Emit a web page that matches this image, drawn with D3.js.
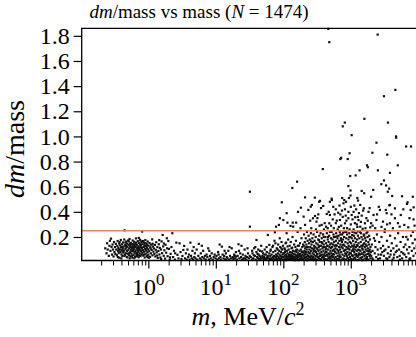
<!DOCTYPE html>
<html>
<head>
<meta charset="utf-8">
<script src="https://cdn.jsdelivr.net/npm/d3@7"></script>
<style>
    body { margin: 0; background: #fff; }
    svg { display: block; }
    svg text { font-family: "Liberation Serif", "DejaVu Serif", "Times New Roman", serif; }
</style>
</head>
<body>
<svg id="plot"></svg>
<script>
'use strict';

// values: [mass in MeV/c^2, dm/mass]
const lowMassPoints = [
    [0.23,0.11],[0.24,0.07],[0.245,0.15],[0.25,0.1],[0.26,0.05],[0.265,0.13],[0.27,0.17],[0.275,0.09],[0.28,0.187],[0.285,0.12],[0.29,0.06],[0.295,0.14],[0.3,0.1],[0.305,0.045],[0.31,0.16],[0.315,0.08],[0.32,0.12],[0.325,0.065],[0.33,0.145],[0.335,0.1],
    [0.342,0.055],[0.347,0.128],[0.351,0.168],[0.356,0.09],[0.36,0.112],[0.364,0.072],[0.369,0.149],[0.373,0.035],[0.378,0.101],[0.382,0.133],[0.386,0.081],[0.391,0.176],[0.395,0.118],[0.4,0.062],[0.404,0.095],[0.409,0.142],[0.413,0.048],[0.418,0.108],[0.422,0.157],[0.427,0.076],[0.431,0.124],[0.436,0.092],[0.44,0.18],[0.445,0.253],[0.449,0.058],[0.454,0.137],[0.458,0.104],[0.463,0.071],[0.468,0.163],[0.472,0.116],[0.477,0.042],[0.481,0.088],[0.486,0.147],[0.49,0.123],[0.495,0.067],[0.5,0.172],[0.354,0.04],[0.376,0.158],[0.398,0.03],[0.42,0.085],[0.441,0.05],[0.466,0.128],[0.488,0.038],[0.362,0.094],[0.411,0.12],[0.459,0.155],
    [0.505,0.097],[0.51,0.138],[0.516,0.055],[0.521,0.11],[0.527,0.184],[0.533,0.079],[0.538,0.127],[0.544,0.046],[0.55,0.153],[0.556,0.1],[0.562,0.068],[0.568,0.141],[0.574,0.117],[0.58,0.036],[0.586,0.172],[0.592,0.089],[0.598,0.131],[0.604,0.058],[0.61,0.106],[0.617,0.162],[0.623,0.075],[0.63,0.121],[0.636,0.043],[0.643,0.146],[0.65,0.094],[0.656,0.189],[0.663,0.064],[0.67,0.114],[0.677,0.138],[0.684,0.051],[0.691,0.099],[0.698,0.167],[0.705,0.083],[0.713,0.126],[0.72,0.039],[0.727,0.151],[0.735,0.105],[0.743,0.07],[0.75,0.178],[0.758,0.119],[0.766,0.048],[0.774,0.136],[0.782,0.087],[0.79,0.158],[0.798,0.061],
    [0.513,0.165],[0.53,0.03],[0.547,0.122],[0.565,0.088],[0.583,0.108],[0.601,0.145],[0.62,0.032],[0.64,0.084],[0.66,0.155],[0.68,0.072],[0.7,0.113],[0.722,0.193],[0.745,0.054],[0.768,0.095],[0.792,0.118],[0.525,0.072],[0.57,0.05],[0.615,0.135],[0.668,0.046],[0.718,0.092],[0.77,0.17],[0.54,0.145],[0.595,0.115],[0.648,0.126],[0.7,0.058],[0.755,0.142],
    [0.81,0.243],[0.806,0.112],[0.815,0.074],[0.823,0.143],[0.832,0.095],[0.84,0.052],[0.849,0.16],[0.858,0.121],[0.866,0.083],[0.875,0.134],[0.884,0.037],[0.893,0.107],[0.903,0.175],[0.912,0.066],[0.921,0.128],[0.931,0.091],[0.94,0.149],[0.95,0.049],[0.96,0.115],[0.97,0.078],[0.98,0.164],[0.99,0.102],[1.0,0.059],[1.01,0.131],[1.03,0.087],[1.04,0.152],[1.06,0.042],[1.07,0.118],[1.09,0.07],[1.1,0.139],[1.12,0.097],[1.14,0.181],[1.15,0.054],[1.17,0.124],[1.19,0.083],[0.835,0.168],[0.87,0.06],[0.915,0.1],[0.955,0.135],[1.02,0.035],[1.08,0.108],[1.16,0.146],[0.89,0.15],[0.975,0.04],
    [1.21,0.109],[1.23,0.064],[1.25,0.137],[1.27,0.045],[1.29,0.098],[1.31,0.158],[1.33,0.078],[1.36,0.12],[1.38,0.033],[1.41,0.089],[1.43,0.142],[1.46,0.061],[1.48,0.113],[1.51,0.037],[1.54,0.1],[1.57,0.165],[1.6,0.071],[1.63,0.216],[1.66,0.125],[1.69,0.05],[1.73,0.094],[1.77,0.028],[1.8,0.138],[1.84,0.075],[1.88,0.19],[1.93,0.047],[1.98,0.168],[2.02,0.105],[2.08,0.022],[2.14,0.066],[2.2,0.12],[2.27,0.23],[2.33,0.04],[2.4,0.09],[2.48,0.02],[2.6,0.155],[2.7,0.058],[2.8,0.03],[2.9,0.15],[3.0,0.08],[3.2,0.049],[3.3,0.097],[3.4,0.129],[1.35,0.052],[1.45,0.175],[1.55,0.025],[1.7,0.148],[1.9,0.11],[2.1,0.038],[2.5,0.07],[3.1,0.025]
];

const midMassPoints = [
    [3.5,0.03],[3.6,0.07],[3.7,0.02],[3.8,0.1],[3.9,0.04],[4.0,0.06],[4.1,0.02],[4.2,0.155],[4.3,0.05],[4.4,0.03],[4.5,0.09],[4.6,0.02],[4.8,0.04],[4.9,0.07],[5.0,0.03],[5.2,0.1],[5.3,0.02],[5.5,0.05],[5.6,0.145],[5.8,0.03],[6.0,0.07],[6.1,0.02],[6.3,0.04],[6.5,0.09],[6.7,0.03],[6.9,0.05],[7.1,0.02],[7.3,0.06],[7.5,0.04],[7.7,0.11],[7.9,0.02],[8.2,0.05],[8.4,0.03],[8.7,0.07],[9.0,0.02],[9.3,0.04],[9.6,0.06],[9.9,0.03],[4.7,0.12],[6.2,0.13],[8.0,0.09],
    [10.2,0.05],[10.5,0.02],[10.8,0.08],[11.1,0.03],[11.4,0.14],[11.7,0.04],[12.0,0.02],[12.3,0.123],[12.6,0.06],[13.0,0.03],[13.3,0.05],[13.7,0.02],[14.1,0.07],[14.5,0.04],[14.9,0.03],[15.3,0.09],[15.8,0.02],[16.2,0.05],[16.7,0.03],[17.2,0.11],[17.7,0.04],[18.2,0.02],[18.7,0.06],[19.3,0.03],[19.9,0.08],[20.5,0.02],[21.1,0.05],[21.7,0.142],[22.3,0.03],[23.0,0.07],[23.7,0.04],[24.4,0.02],[25.1,0.06],[25.9,0.03],[26.7,0.1],[27.5,0.05],[28.3,0.02],[29.1,0.04],[30.0,0.07],[30.9,0.03],[31.8,0.05],[11.0,0.06],[13.5,0.09],[16.0,0.12],[19.0,0.05],[22.0,0.09],[24.0,0.13],[27.0,0.03],[29.5,0.11],[14.0,0.02],[18.0,0.035],[20.0,0.045],[25.5,0.025],
    [32,0.282],[32,0.56],[33,0.04],[34,0.02],[35,0.07],[36,0.03],[37,0.11],[38,0.05],[39,0.02],[40,0.176],[40,0.08],[41,0.04],[42,0.03],[43,0.06],[44,0.02],[45,0.09],[46,0.04],[47,0.13],[48,0.03],[49,0.05],[50,0.07],[51,0.02],[52,0.04],[53,0.1],[54,0.03],[55,0.06],[56,0.02],[57,0.08],[58,0.04],[59,0.216],[59,0.05],[34.5,0.09],[36.5,0.055],[38.5,0.12],[42.5,0.1],[44.5,0.05],[48.5,0.085],[52.5,0.06],[56.5,0.12],[35.5,0.025],[45.5,0.025],[53.5,0.02],[41.5,0.065],[50.5,0.035],[57.5,0.03]
];

const highMassBand = [
    [61,0.03],[62,0.137],[62,0.07],[63,0.02],[64,0.05],[65,0.1],[66,0.03],[67,0.06],[68,0.02],[69,0.12],[70,0.04],[71,0.08],[72,0.03],[73,0.05],[74,0.17],[75,0.238],[75,0.02],[76,0.09],[77,0.04],[78,0.282],[78,0.06],[79,0.03],[80,0.11],[81,0.05],[82,0.02],[83,0.07],[84,0.14],[85,0.04],[86,0.296],[86,0.03],[87,0.09],[88,0.06],[89,0.349],[89,0.02],[90,0.12],[91,0.05],[92,0.08],[93,0.03],[94,0.16],[95,0.476],[95,0.04],[96,0.1],[97,0.06],[98,0.02],[99,0.13],[100,0.07],[64.5,0.09],[70.5,0.13],[76.5,0.15],[82.5,0.1],[88.5,0.19],[93.5,0.11],[66.5,0.02],[72.5,0.015],[80.5,0.018],[91.5,0.02],
    [101,0.04],[102,0.07],[103,0.02],[104,0.11],[105,0.05],[106,0.08],[107,0.03],[108,0.15],[109,0.05],[110,0.155],[110,0.06],[112,0.23],[112,0.03],[113,0.09],[114,0.04],[115,0.02],[116,0.07],[117,0.03],[118,0.18],[119,0.05],[120,0.1],[121,0.025],[122,0.06],[123,0.04],[124,0.13],[125,0.02],[126,0.08],[127,0.045],[128,0.03],[129,0.16],[130,0.06],[131,0.025],[132,0.11],[133,0.04],[134,0.075],[135,0.02],[136,0.05],[137,0.2],[138,0.03],[139,0.09],[140,0.045],[142,0.065],[143,0.025],[145,0.14],[146,0.04],[147,0.085],[149,0.02],[150,0.06],[151,0.12],[153,0.035],[154,0.17],[156,0.05],[157,0.08],[159,0.025],[160,0.1],[162,0.055],[163,0.24],[165,0.04],[166,0.07],[168,0.02],[170,0.13],[171,0.05],[173,0.09],[175,0.03],[177,0.15],[178,0.065],[180,0.025],[182,0.1],[184,0.05],[186,0.19],[187,0.08],[189,0.035],[191,0.12],[193,0.06],[195,0.02],[197,0.14],[199,0.075],
    [105.5,0.1],[115.5,0.125],[125.5,0.055],[135.5,0.115],[144,0.035],[155,0.095],[164,0.13],[174,0.06],[183,0.045],[192,0.085],[108.5,0.015],[128.5,0.018],[148,0.015],[169,0.016],[188,0.018],
    [201,0.05],[201,0.13],[203,0.22],[205,0.03],[206,0.09],[208,0.16],[210,0.06],[211,0.11],[213,0.02],[215,0.19],[216,0.08],[218,0.04],[220,0.14],[222,0.1],[224,0.24],[226,0.06],[227,0.03],[229,0.17],[231,0.12],[233,0.05],[235,0.08],[237,0.21],[239,0.02],[241,0.15],[243,0.1],[245,0.04],[247,0.18],[249,0.07],[251,0.12],[253,0.03],[256,0.23],[258,0.09],[260,0.05],[262,0.14],[265,0.11],[267,0.02],[269,0.19],[272,0.07],[274,0.16],[276,0.04],[279,0.1],[281,0.22],[284,0.06],[286,0.13],[289,0.03],[291,0.17],[294,0.09],[297,0.12],[299,0.05],[302,0.2],[305,0.08],[308,0.15],[311,0.02],[314,0.11],[317,0.24],[320,0.06],[323,0.14],[326,0.04],[329,0.18],[332,0.09],[335,0.12],[338,0.03],[341,0.21],[344,0.07],[347,0.16],[350,0.05],[354,0.1],[357,0.23],[360,0.13],[364,0.02],[367,0.08],[371,0.19],[374,0.06],[378,0.15],[381,0.11],[385,0.04],[389,0.22],[393,0.09],[396,0.14],[400,0.03],[404,0.17],[408,0.07],[412,0.12],[416,0.05],[420,0.2],[424,0.1],[429,0.15],[433,0.02],[437,0.08],[442,0.23],[446,0.13],[450,0.05],[455,0.18],[459,0.1],[464,0.03],[469,0.16],[473,0.07],[478,0.21],[483,0.12],[488,0.04],[493,0.14],[498,0.09],
    [207,0.035],[219,0.12],[232,0.025],[244,0.07],[257,0.165],[270,0.03],[283,0.085],[296,0.025],[309,0.045],[322,0.1],[336,0.175],[349,0.025],[362,0.055],[376,0.035],[390,0.12],[403,0.055],[418,0.025],[431,0.11],[445,0.06],[460,0.2],[475,0.035],[490,0.24],[212,0.07],[238,0.045],[263,0.045],[288,0.11],[315,0.065],[343,0.13],[370,0.16],[397,0.2],[427,0.08],[452,0.13],[481,0.06],[224,0.015],[252,0.017],[280,0.016],[318,0.018],[358,0.017],[398,0.016],[440,0.018],[485,0.015],
    [502,0.03],[505,0.11],[508,0.19],[512,0.07],[516,0.15],[520,0.24],[524,0.05],[528,0.12],[532,0.02],[536,0.18],[540,0.09],[545,0.14],[549,0.04],[554,0.22],[558,0.1],[563,0.06],[567,0.16],[572,0.03],[577,0.13],[582,0.2],[587,0.08],[592,0.11],[597,0.04],[602,0.17],[608,0.23],[613,0.07],[618,0.13],[624,0.02],[629,0.1],[635,0.19],[640,0.05],[646,0.15],[652,0.09],[658,0.21],[664,0.03],[670,0.12],[676,0.17],[682,0.06],[688,0.24],[694,0.1],[700,0.14],[707,0.04],[713,0.19],[720,0.08],[726,0.12],[733,0.02],[740,0.16],[746,0.22],[753,0.06],[760,0.11],[767,0.18],[774,0.03],[781,0.14],[789,0.09],[796,0.2],[803,0.05],[810,0.13],[818,0.24],[826,0.07],[833,0.16],[841,0.1],[849,0.02],[857,0.19],[865,0.12],[873,0.05],[881,0.22],[889,0.08],[897,0.15],[906,0.11],[914,0.03],[923,0.18],[931,0.13],[940,0.06],[949,0.23],[958,0.1],[967,0.16],[976,0.04],[985,0.2],[994,0.12],
    [1003,0.07],[1012,0.15],[1022,0.02],[1031,0.19],[1041,0.09],[1050,0.13],[1060,0.24],[1070,0.05],[1080,0.17],[1090,0.11],[1100,0.03],[1110,0.21],[1121,0.08],[1131,0.14],[1142,0.06],[1152,0.19],[1163,0.1],[1174,0.02],[1185,0.16],[1196,0.12],[1207,0.23],[1219,0.05],[1230,0.09],[1242,0.18],[1253,0.13],[1265,0.04],[1277,0.21],[1289,0.1],[1301,0.15],[1313,0.07],[1325,0.02],[1338,0.19],[1350,0.12],[1363,0.06],[1376,0.24],[1389,0.09],[1402,0.16],[1415,0.03],[1428,0.13],[1441,0.2],[1455,0.07],[1468,0.11],[1482,0.04],[1496,0.18],[1510,0.1],[1524,0.14],[1538,0.02],[1553,0.22],[1567,0.08],[1582,0.15],[1597,0.05],[1612,0.12],[1627,0.19],[1642,0.03],[1657,0.1],[1673,0.17],[1688,0.06],[1704,0.23],[1720,0.13],[1736,0.04],[1752,0.09],[1769,0.2],[1785,0.11],[1802,0.02],[1819,0.16],[1836,0.07],[1853,0.14],[1870,0.21],[1888,0.05],[1905,0.1],[1923,0.18],[1941,0.03],[1960,0.12],[1978,0.08],
    [515,0.045],[543,0.065],[570,0.095],[600,0.135],[630,0.025],[660,0.075],[690,0.045],[722,0.175],[755,0.135],[788,0.025],[822,0.095],[855,0.065],[890,0.035],[925,0.105],[962,0.075],[1000,0.025],[1036,0.055],[1075,0.095],[1115,0.125],[1158,0.035],[1200,0.065],[1245,0.135],[1292,0.055],[1340,0.095],[1390,0.035],[1440,0.065],[1493,0.13],[1548,0.06],[1605,0.08],[1664,0.14],[1725,0.025],[1790,0.065],[1860,0.09],[1930,0.06],[560,0.2],[620,0.205],[700,0.22],[770,0.235],[860,0.24],[950,0.2],[1050,0.215],[1140,0.235],[1270,0.245],[1410,0.23],[1580,0.21],[1760,0.24],[580,0.015],[680,0.016],[800,0.017],[940,0.015],[1090,0.018],[1260,0.016],[1470,0.015],[1700,0.017],
    [2010,0.05],[2050,0.14],[2100,0.09],[2150,0.02],[2200,0.19],[2260,0.07],[2320,0.12],[2380,0.04],[2440,0.22],[2500,0.1],[2570,0.06],[2640,0.16],[2710,0.03],[2780,0.11],[2850,0.2],[2930,0.08],[3010,0.13],[3090,0.05],[3170,0.24],[3260,0.1],[3350,0.03],[3440,0.17],[3530,0.07],[3630,0.12],[3730,0.04],[3830,0.21],[3940,0.09],[4050,0.15],[4160,0.02],[4270,0.11],[4390,0.06],[4510,0.19],[4630,0.08],[4760,0.13],[4890,0.04],[5030,0.23],[5170,0.1],[5310,0.05],[5460,0.16],[5610,0.08],[5770,0.03],[5930,0.2],[6090,0.12],[6260,0.06],[6440,0.14],[6620,0.04],[6800,0.1],[6990,0.18],[7180,0.07],[7380,0.12],[7590,0.03],[7800,0.21],[8020,0.09],[8240,0.15],[8470,0.05],[8710,0.11],[8950,0.18],[9200,0.07],[9450,0.13],
    [2080,0.03],[2290,0.17],[2540,0.025],[2810,0.06],[3120,0.09],[3480,0.025],[3880,0.06],[4320,0.035],[4800,0.09],[5350,0.02],[5960,0.07],[6640,0.2],[7400,0.025],[8300,0.24]
];

const upperPoints = [
    [464,1.855],[480,1.75],[2500,1.81],[4570,1.37],[3100,1.32],[1590,1.14],[815,1.11],[760,1.08],[3550,1.11],[1030,1.01],[4680,1.0],[4700,0.99],[2400,0.95],[6600,0.92],[7800,0.92],[2090,0.87],[3470,0.855],[960,0.866],[720,0.83],[700,0.82],[900,0.82],[4970,0.77],[1740,0.77],[1790,0.755],[1350,0.73],[2520,0.73],[385,0.74],[1180,0.69],[980,0.685],[3800,0.71],[160,0.64],[136,0.59],[3100,0.65],[2830,0.62],[3330,0.61],[3700,0.585],[3530,0.56],[920,0.605],[1450,0.566],[1580,0.548],[990,0.57],[2150,0.574],[990,0.53],[940,0.51],[1250,0.51],[1280,0.49],[2000,0.52],[4100,0.526],[5740,0.524],[8300,0.52],[210,0.515],[293,0.513],[350,0.487],[520,0.505],[525,0.494],[745,0.51],[800,0.494],[850,0.48],[182,0.433],[255,0.441],[6940,0.476],[8540,0.436],[3720,0.452],[3300,0.415],
    [340,0.48],[390,0.447],[490,0.48],[440,0.383],[490,0.375],[295,0.367],[275,0.349],[200,0.362],[115,0.314],[138,0.314],[155,0.314],[128,0.288],[140,0.282],[210,0.296],[250,0.33],[550,0.44],[650,0.393],[780,0.468],[820,0.42],[920,0.4],[1030,0.375],[1160,0.357],[1300,0.335],[1380,0.455],[1560,0.428],[1830,0.4],[2170,0.375],[2700,0.415],[3400,0.389],[3800,0.455],[4500,0.428],[5500,0.375],[6800,0.463],[7700,0.415],[2400,0.335],[3000,0.322],[3800,0.309],[4500,0.349],[5300,0.282],[6200,0.296],[7100,0.277],[100,0.335],[112,0.389],[165,0.4],[235,0.415],[265,0.455],[690,0.335],[820,0.309],[920,0.349],[310,0.322],[370,0.296],[430,0.282],[480,0.309],[1620,0.309],[1940,0.277],[1380,0.282],[8500,0.34],
    [560,0.27],[600,0.31],[640,0.26],[720,0.29],[760,0.36],[880,0.27],[1000,0.3],[1100,0.26],[1200,0.42],[1250,0.28],[1450,0.37],[1500,0.265],[1700,0.35],[1100,0.4],[600,0.42],[680,0.45],[1000,0.44],[400,0.26],[330,0.38],[180,0.27],[260,0.27],[2300,0.27],[2600,0.44],[3200,0.26],[4000,0.38],[5000,0.31],[6000,0.42],[7400,0.35],[8800,0.29],[1150,0.31],[1320,0.39],[860,0.33],[540,0.34],[2000,0.31],
    [305,0.26],[320,0.35],[345,0.29],[362,0.43],[410,0.31],[455,0.27],[470,0.4],[510,0.29],[575,0.38],[620,0.33],[665,0.28],[740,0.41],[790,0.27],[840,0.37],[960,0.26],[1060,0.34],[1130,0.45],[1230,0.3],[1410,0.32],[1520,0.41],[1650,0.27],[1780,0.33],[1900,0.43],[2100,0.29],[2450,0.38],[2850,0.28],[3450,0.3],[4200,0.27],[1270,0.36],[700,0.38]
];

const ratioTicks = [0.2, 0.4, 0.6, 0.8, 1.0, 1.2, 1.4, 1.6, 1.8];
const massMajorTicks = [1, 10, 100, 1000];
const massDomain = [0.103, 9800];
const ratioDomain = [0.013, 1.86];
const cutRatio = 0.25;
const sampleCount = 1474;

const width = 416;
const height = 337;
const plotLeft = 81.7;
const plotRight = 417.7;
const plotTop = 28.3;
const plotBottom = 260.5;
const serif = '"Liberation Serif", "DejaVu Serif", "Times New Roman", serif';

const svg = d3.select('#plot')
    .attr('width', width)
    .attr('height', height);

const xScale = d3.scaleLog().domain(massDomain).range([plotLeft, plotRight]);
const yScale = d3.scaleLinear().domain(ratioDomain).range([plotBottom, plotTop]);

const allPoints = [].concat(lowMassPoints, midMassPoints, highMassBand, upperPoints);

svg.append('g')
    .selectAll('rect')
    .data(allPoints)
    .join('rect')
    .attr('x', d => xScale(d[0]) - 1.1)
    .attr('y', d => yScale(d[1]) - 1.1)
    .attr('width', 2.2)
    .attr('height', 2.2)
    .attr('fill', '#111');

svg.append('line')
    .attr('x1', plotLeft)
    .attr('x2', plotRight)
    .attr('y1', yScale(cutRatio))
    .attr('y2', yScale(cutRatio))
    .attr('stroke', '#e5836b')
    .attr('stroke-width', 1.4);

// y axis
const yAxis = svg.append('g')
    .attr('transform', `translate(${plotLeft},0)`)
    .call(d3.axisLeft(yScale).tickValues(ratioTicks).tickSize(8).tickPadding(4).tickFormat(d3.format('.1f')));
yAxis.attr('font-family', serif).attr('font-size', 24);
yAxis.select('.domain').remove();
yAxis.selectAll('line').attr('stroke', '#000').attr('stroke-width', 1.2);
yAxis.selectAll('text').attr('fill', '#000');

// x axis: minor then major ticks
const minorTicks = xScale.ticks().filter(v => !massMajorTicks.includes(v) && v > massDomain[0]);
const xMinor = svg.append('g')
    .attr('transform', `translate(0,${plotBottom})`)
    .call(d3.axisBottom(xScale).tickValues(minorTicks).tickSize(5).tickFormat(''));
xMinor.select('.domain').remove();
xMinor.selectAll('line').attr('stroke', '#000').attr('stroke-width', 1);

const xMajor = svg.append('g')
    .attr('transform', `translate(0,${plotBottom})`)
    .call(d3.axisBottom(xScale).tickValues(massMajorTicks).tickSize(8).tickFormat(''));
xMajor.select('.domain').remove();
xMajor.selectAll('line').attr('stroke', '#000').attr('stroke-width', 1.2);

const xLabels = svg.append('g')
    .attr('font-family', serif)
    .selectAll('text')
    .data(massMajorTicks)
    .join('text')
    .attr('x', d => xScale(d))
    .attr('y', 295)
    .attr('text-anchor', 'middle')
    .attr('font-size', 24);
xLabels.append('tspan').text('10');
xLabels.append('tspan')
    .attr('font-size', 17)
    .attr('dy', -10)
    .text(d => Math.round(Math.log10(d)));

// frame
svg.append('path')
    .attr('d', `M${plotRight},${plotTop}H${plotLeft}V${plotBottom}H${plotRight}`)
    .attr('fill', 'none')
    .attr('stroke', '#000')
    .attr('stroke-width', 1.3);

// title
const title = svg.append('text')
    .attr('x', 199)
    .attr('y', 18)
    .attr('font-family', serif)
    .attr('text-anchor', 'middle')
    .attr('font-size', 19);
title.append('tspan').attr('font-style', 'italic').text('dm');
title.append('tspan').text('/mass vs mass (');
title.append('tspan').attr('font-style', 'italic').text('N');
title.append('tspan').text(` = ${sampleCount})`);

// axis labels
const yLabel = svg.append('text')
    .attr('transform', 'translate(24,149) rotate(-90)')
    .attr('font-family', serif)
    .attr('text-anchor', 'middle')
    .attr('font-size', 28);
yLabel.append('tspan').attr('font-style', 'italic').text('dm');
yLabel.append('tspan').text('/mass');

const xLabel = svg.append('text')
    .attr('x', 248)
    .attr('y', 325)
    .attr('font-family', serif)
    .attr('text-anchor', 'middle')
    .attr('font-size', 26);
xLabel.append('tspan').attr('font-style', 'italic').text('m');
xLabel.append('tspan').text(', MeV/');
xLabel.append('tspan').attr('font-style', 'italic').text('c');
xLabel.append('tspan').attr('font-size', 18).attr('dy', -10).text('2');
</script>
</body>
</html>
